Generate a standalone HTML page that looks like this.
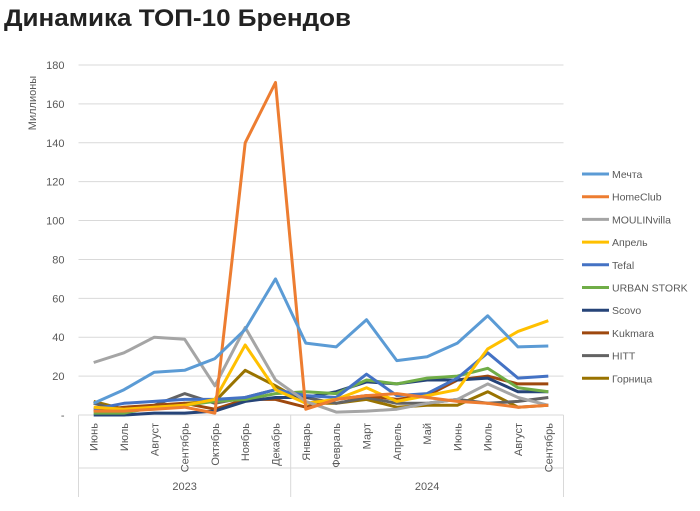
<!DOCTYPE html>
<html><head><meta charset="utf-8"><style>
body{margin:0;background:#fff;width:700px;height:506px;overflow:hidden;font-family:"Liberation Sans","Noto Sans CJK SC",sans-serif}
</style></head><body>
<svg id="s" width="700" height="506" xmlns="http://www.w3.org/2000/svg" font-family="Liberation Sans, sans-serif">
<text x="4" y="26" font-size="24" font-weight="bold" fill="#222" textLength="347" lengthAdjust="spacingAndGlyphs">Динамика ТОП-10 Брендов</text>
<text transform="translate(36,103) rotate(-90)" font-size="11" fill="#595959" text-anchor="middle">Миллионы</text>
<g id="g"></g>
</svg>
<script>
const g=document.getElementById('g');let h='';
const L=78.5,W=485,B=415,k=350/180,st=W/16;
for(let v=0;v<=180;v+=20){const y=B-v*k;
 if(v>0)h+=`<line x1="${L}" x2="${L+W}" y1="${y}" y2="${y}" stroke="#d9d9d9" stroke-width="1"/>`;
 h+=`<text x="${L-14}" y="${y+4}" font-size="11" fill="#595959" text-anchor="end">${v==0?'-':v}</text>`;}
h+=`<line x1="${L}" x2="${L+W}" y1="${B}" y2="${B}" stroke="#d9d9d9"/>`;
for(const x of [L,L+7*st,L+W])h+=`<line x1="${x}" x2="${x}" y1="${B}" y2="497" stroke="#d9d9d9"/>`;
h+=`<line x1="${L}" x2="${L+W}" y1="468" y2="468" stroke="#d9d9d9"/>`;
const m=['Июнь','Июль','Август','Сентябрь','Октябрь','Ноябрь','Декабрь','Январь','Февраль','Март','Апрель','Май','Июнь','Июль','Август','Сентябрь'];
m.forEach((t,i)=>{const x=L+st*(i+.5);h+=`<text transform="translate(${x+4},${B+8}) rotate(-90)" font-size="11" fill="#595959" text-anchor="end">${t}</text>`;});
h+=`<text x="${L+3.5*st}" y="490" font-size="11" fill="#595959" text-anchor="middle">2023</text>`;
h+=`<text x="${L+11.5*st}" y="490" font-size="11" fill="#595959" text-anchor="middle">2024</text>`;
const S=[
['Мечта','#5B9BD5',[6,13,22,23,29,44,70,37,35,49,28,30,37,51,35,35.5]],
['HomeClub','#ED7D31',[2,2,3,4,1,140,171,3,8,10,11,9,7,6,4,5]],
['MOULINvilla','#A5A5A5',[27,32,40,39,15,45,18,7,1.5,2,3,6,8,16,9,5]],
['Апрель','#FFC000',[4,3,4,5,8,36,13,6,8,14,7,10,13,34,43,48.5]],
['Tefal','#4472C4',[3,6,7,8,8,9,13,10,9,21,10,11,19,32,19,20]],
['URBAN STORK','#70AD47',[1,1,4,5,7,8,11,12,11,18,16,19,20,24,14,12]],
['Scovo','#264478',[0,0,1,1,2,7,9,9,12,17,16,18,18,19,12,12]],
['Kukmara','#9E480E',[2,4,5,6,3,8,8,4,8,10,8,10,18,20,16,16]],
['HITT','#636363',[6,2,5,11,6,9,13,9,6,9,6,6,8,6,7,9]],
['Горница','#997300',[7,3,4,6,7,23,15,6,6,8,4,5,5,12,4,5]]];
S.slice().reverse().forEach(s=>{h+=`<polyline fill="none" stroke="${s[1]}" stroke-width="3" stroke-linejoin="round" points="${s[2].map((v,i)=>(L+st*(i+.5)).toFixed(1)+','+(B-v*k).toFixed(1)).join(' ')}"/>`;});
S.forEach((s,i)=>{const y=174+i*22.7;h+=`<line x1="582" x2="609" y1="${y}" y2="${y}" stroke="${s[1]}" stroke-width="3"/><text x="612" y="${y+4}" font-size="10.5" fill="#595959">${s[0]}</text>`;});
g.innerHTML=h;
</script>
</body></html>
